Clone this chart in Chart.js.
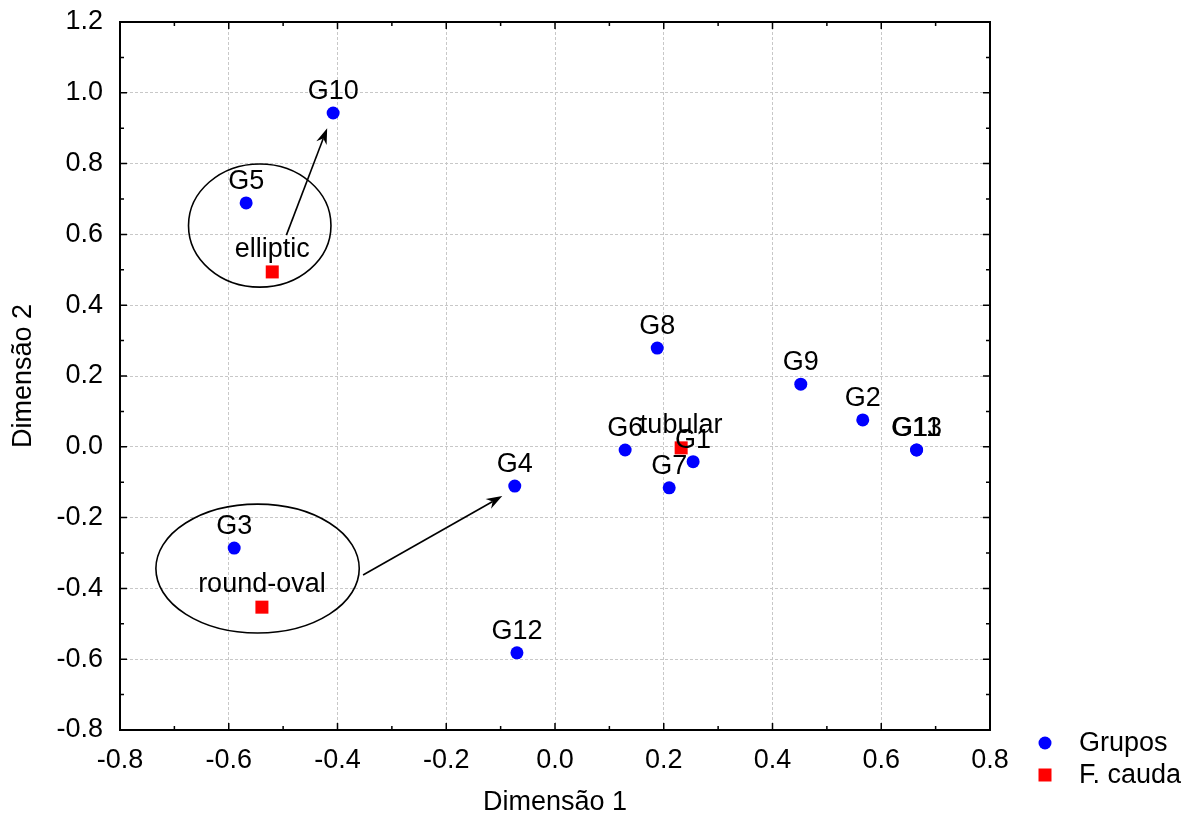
<!DOCTYPE html>
<html>
<head>
<meta charset="utf-8">
<script src="https://cdn.jsdelivr.net/npm/chart.js@4/dist/chart.umd.min.js"></script>
<style>
  html, body { margin: 0; padding: 0; background: #fff; }
  #wrap { width: 1202px; height: 821px; }
</style>
</head>
<body>
<div id="wrap"><canvas id="c" width="1202" height="821"></canvas></div>
<script>
// Grupos G1..G13 (coordenadas)
const groupLabels = ['G1', 'G2', 'G3', 'G4', 'G5', 'G6', 'G7', 'G8', 'G9', 'G10', 'G11', 'G12', 'G13'];
const groupX = [0.254, 0.566, -0.590, -0.074, -0.568, 0.129, 0.210, 0.188, 0.452, -0.408, 0.665, -0.070, 0.665];
const groupY = [-0.042, 0.076, -0.286, -0.111, 0.689, -0.009, -0.116, 0.279, 0.177, 0.943, -0.009, -0.582, -0.009];

// Forma da cauda
const caudaLabels = ['elliptic', 'tubular', 'round-oval'];
const caudaX = [-0.520, 0.232, -0.539];
const caudaY = [0.494, -0.003, -0.453];

// Elipses e setas de anotação (unidades dos eixos)
const ellipseCx = [-0.543, -0.547];
const ellipseCy = [0.625, -0.344];
const ellipseRx = [0.131, 0.187];
const ellipseRy = [0.174, 0.182];
const arrowFromX = [-0.494, -0.353];
const arrowFromY = [0.598, -0.362];
const arrowToX = [-0.419, -0.097];
const arrowToY = [0.900, -0.139];

const xTicks = [-0.8, -0.6, -0.4, -0.2, 0.0, 0.2, 0.4, 0.6, 0.8];
const yTicks = [-0.8, -0.6, -0.4, -0.2, 0.0, 0.2, 0.4, 0.6, 0.8, 1.0, 1.2];

const FONT = '"Liberation Sans", Arial, sans-serif';
const FS = 27;
const fmt = v => (Math.abs(v) < 1e-9 ? 0 : v).toFixed(1);

// frame, tick interni, rótulos, elipses, setas, legenda
const decorPlugin = {
    id: 'decor',
    afterDatasetsDraw(chart) {
        const ctx = chart.ctx;
        const xs = chart.scales.x, ys = chart.scales.y;
        const a = chart.chartArea;
        ctx.save();

        // rótulos dos pontos
        ctx.fillStyle = '#000';
        ctx.font = FS + 'px ' + FONT;
        ctx.textAlign = 'center';
        ctx.textBaseline = 'alphabetic';
        chart.data.datasets.forEach((ds, di) => {
            const meta = chart.getDatasetMeta(di);
            meta.data.forEach((el, i) => {
                ctx.fillText(ds.pointLabels[i], el.x, el.y - ds.labelOffset);
            });
        });

        // elipses
        ctx.strokeStyle = '#000';
        ctx.lineWidth = 1.6;
        for (let i = 0; i < ellipseCx.length; i++) {
            const cx = xs.getPixelForValue(ellipseCx[i]);
            const cy = ys.getPixelForValue(ellipseCy[i]);
            const rx = Math.abs(xs.getPixelForValue(ellipseCx[i] + ellipseRx[i]) - cx);
            const ry = Math.abs(ys.getPixelForValue(ellipseCy[i] + ellipseRy[i]) - cy);
            ctx.beginPath();
            ctx.ellipse(cx, cy, rx, ry, 0, 0, Math.PI * 2);
            ctx.stroke();
        }

        // setas
        for (let i = 0; i < arrowFromX.length; i++) {
            const x1 = xs.getPixelForValue(arrowFromX[i]), y1 = ys.getPixelForValue(arrowFromY[i]);
            const x2 = xs.getPixelForValue(arrowToX[i]), y2 = ys.getPixelForValue(arrowToY[i]);
            const ang = Math.atan2(y2 - y1, x2 - x1);
            const L = 16, W = 5.5, N = 11;
            ctx.beginPath();
            ctx.moveTo(x1, y1);
            ctx.lineTo(x2 - Math.cos(ang) * N, y2 - Math.sin(ang) * N);
            ctx.stroke();
            const c = Math.cos(ang), s = Math.sin(ang);
            ctx.beginPath();
            ctx.moveTo(x2, y2);
            ctx.lineTo(x2 - c * L - s * W, y2 - s * L + c * W);
            ctx.lineTo(x2 - c * N, y2 - s * N);
            ctx.lineTo(x2 - c * L + s * W, y2 - s * L - c * W);
            ctx.closePath();
            ctx.fillStyle = '#000';
            ctx.fill();
        }

        // moldura
        ctx.lineWidth = 2;
        ctx.strokeRect(a.left, a.top, a.right - a.left, a.bottom - a.top);

        // tick interni (maiores a cada 0.2, menores a cada 0.1)
        ctx.lineWidth = 1.5;
        ctx.beginPath();
        for (let v = -8; v <= 8; v++) {
            const len = v % 2 === 0 ? 7 : 4;
            const px = xs.getPixelForValue(v / 10);
            ctx.moveTo(px, a.bottom); ctx.lineTo(px, a.bottom - len);
            ctx.moveTo(px, a.top); ctx.lineTo(px, a.top + len);
        }
        for (let v = -8; v <= 12; v++) {
            const len = v % 2 === 0 ? 7 : 4;
            const py = ys.getPixelForValue(v / 10);
            ctx.moveTo(a.left, py); ctx.lineTo(a.left + len, py);
            ctx.moveTo(a.right, py); ctx.lineTo(a.right - len, py);
        }
        ctx.stroke();

        // legenda
        const lx = 1045, tx = 1079;
        const rows = [743, 775];
        ctx.textAlign = 'left';
        ctx.textBaseline = 'middle';
        ctx.font = FS + 'px ' + FONT;
        chart.data.datasets.forEach((ds, di) => {
            const y = rows[di];
            ctx.fillStyle = ds.backgroundColor;
            ctx.beginPath();
            if (ds.pointStyle === 'rect') {
                ctx.rect(lx - 6.5, y - 6.5, 13, 13);
            } else {
                ctx.arc(lx, y, 6.5, 0, Math.PI * 2);
            }
            ctx.fill();
            ctx.fillStyle = '#000';
            ctx.fillText(ds.label, tx, y + 1);
        });

        ctx.restore();
    }
};

const ctx = document.getElementById('c').getContext('2d');
new Chart(ctx, {
    type: 'scatter',
    data: {
        datasets: [{
            label: 'Grupos',
            data: groupX.map((x, i) => ({ x: x, y: groupY[i] })),
            pointLabels: groupLabels,
            labelOffset: 14,
            backgroundColor: '#0000ff',
            borderColor: '#0000ff',
            pointStyle: 'circle',
            pointRadius: 6.5,
            borderWidth: 0
        }, {
            label: 'F. cauda',
            data: caudaX.map((x, i) => ({ x: x, y: caudaY[i] })),
            pointLabels: caudaLabels,
            labelOffset: 15,
            backgroundColor: '#ff0000',
            borderColor: '#ff0000',
            pointStyle: 'rect',
            pointRadius: 9.2,
            borderWidth: 0
        }]
    },
    options: {
        responsive: false,
        animation: false,
        events: [],
        layout: { padding: { left: 0, top: 22, right: 212, bottom: 0 } },
        plugins: { legend: { display: false }, tooltip: { enabled: false } },
        scales: {
            x: {
                type: 'linear',
                min: -0.8, max: 0.8,
                afterBuildTicks: s => { s.ticks = xTicks.map(v => ({ value: v })); },
                afterFit: s => { s.height = 91; },
                ticks: { color: '#000', padding: 14, font: { family: FONT, size: FS }, callback: v => fmt(v), maxRotation: 0 },
                grid: { color: '#c8c8c8', lineWidth: 1, drawTicks: false },
                border: { display: false, dash: [3, 2] },
                title: { display: true, text: 'Dimensão 1', color: '#000', font: { family: FONT, size: FS }, padding: { top: 0, bottom: 2 } }
            },
            y: {
                type: 'linear',
                min: -0.8, max: 1.2,
                afterBuildTicks: s => { s.ticks = yTicks.map(v => ({ value: v })); },
                afterFit: s => { s.width = 120; s.paddingTop = 0; s.paddingBottom = 0; },
                ticks: { color: '#000', padding: 17, font: { family: FONT, size: FS }, callback: v => fmt(v) },
                grid: { color: '#c8c8c8', lineWidth: 1, drawTicks: false },
                border: { display: false, dash: [3, 2] },
                title: { display: true, text: 'Dimensão 2', color: '#000', font: { family: FONT, size: FS }, padding: { top: 7, bottom: 0 } }
            }
        }
    },
    plugins: [decorPlugin]
});
</script>
</body>
</html>
